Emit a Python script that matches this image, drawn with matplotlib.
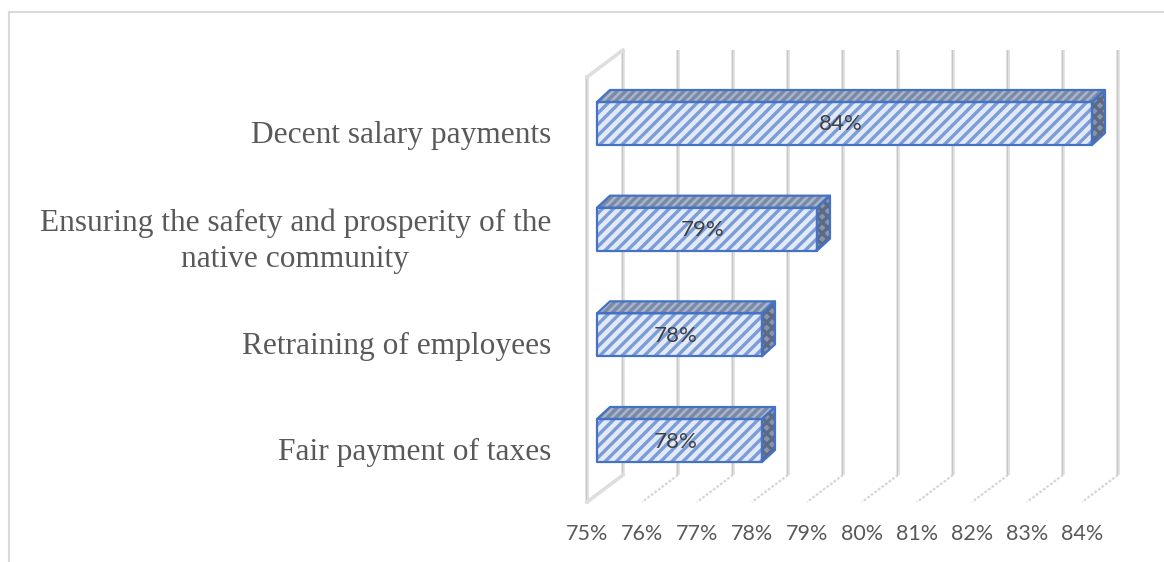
import matplotlib.pyplot as plt
from matplotlib.patches import Polygon
from matplotlib.lines import Line2D

plt.rcParams["hatch.linewidth"] = 2.4

categories = [
    "Decent salary payments",
    "Ensuring the safety and prosperity of the\nnative community",
    "Retraining of employees",
    "Fair payment of taxes",
]
values = [84, 79, 78, 78]
ticks = [75, 76, 77, 78, 79, 80, 81, 82, 83, 84]

W, H = 1164, 562
X0_PX = 597          # where 75% sits on the bar front plane
PX_PER_PCT = 55
Y0_PX = 123.5        # centre of the first bar
PX_PER_CAT = 105.67

EDGE = "#4472c4"
GRID = "#dedede"
TEXT = "#595959"


def dx(px):
    return px / PX_PER_PCT


def dy(px):
    # positive is downwards (y axis is inverted)
    return px / PX_PER_CAT


fig = plt.figure(figsize=(W / 100, H / 100), dpi=100)
ax = fig.add_axes([0, 0, 1, 1])
ax.set_xlim(ticks[0] - dx(X0_PX), ticks[0] + dx(W - X0_PX))
ax.set_ylim(dy(H - Y0_PX), dy(-Y0_PX))
ax.axis("off")

# 3d box: front wall plane and depth vector
base = ticks[0]
wall_shift = dx(-10)
wall_top = dy(-46.5)
wall_bot = dy(378.5)
dep_x, dep_y = dx(36), dy(-27)

# back wall gridlines
for t in ticks:
    xb = t + wall_shift + dep_x
    ax.plot([xb, xb], [wall_top + dep_y, wall_bot + dep_y], color=GRID, lw=2.6,
            solid_capstyle="butt", zorder=1)
    ax.plot([xb - dx(0.6), xb - dx(0.6)], [wall_top + dep_y, wall_bot + dep_y],
            color="#c6c6c6", lw=0.7, zorder=1)
    # floor lines
    ax.plot([xb, t + wall_shift], [wall_bot + dep_y, wall_bot], color="#d6d6d6",
            lw=1.6, ls=(0, (1.2, 0.8)), zorder=1)

# left side wall
xf = base + wall_shift
ax.plot([xf, xf], [wall_top, wall_bot], color=GRID, lw=2.6, zorder=1)
ax.plot([xf - dx(0.6), xf - dx(0.6)], [wall_top, wall_bot], color="#c6c6c6", lw=0.7,
        zorder=1)
ax.plot([xf, xf + dep_x], [wall_top, wall_top + dep_y], color=GRID, lw=2.6, zorder=1)
ax.plot([xf, xf + dep_x], [wall_bot, wall_bot + dep_y], color=GRID, lw=2.6, zorder=1)

# bars
bar_h = dy(43)
bdx, bdy = dx(13), dy(-12)


def face(pts, fc, hc, hatch):
    ax.add_patch(Polygon(pts, closed=True, facecolor=fc, edgecolor=hc,
                         hatch=hatch, lw=0, zorder=3))
    ax.add_patch(Polygon(pts, closed=True, facecolor="none", edgecolor=EDGE,
                         lw=1.6, zorder=4, joinstyle="round"))


for i, v in enumerate(values):
    top = i - bar_h / 2
    bot = i + bar_h / 2
    face([(base, top), (v, top), (v, bot), (base, bot)], "#e2eaf7", "#7b9cd6", "///")
    face([(base, top), (v, top), (v + bdx, top + bdy), (base + bdx, top + bdy)],
         "#a8b4ca", "#7a89a6", "////")
    face([(v, top), (v, bot), (v + bdx, bot + bdy), (v + bdx, top + bdy)],
         "#8995ac", "#5c6a86", "xxx")
    ax.text((base + v) / 2 - dx(4), i + dy(1), f"{v}%", ha="center", va="center",
            fontsize=16, family="Lato", color="#404040", zorder=6)
    ax.text(base + dx(-46), i + dy(12), categories[i], ha="right", va="center",
            multialignment="center", fontsize=22.6, family="Liberation Serif",
            color=TEXT, linespacing=1.3, zorder=6)

# x tick labels along the front edge of the floor
for t in ticks:
    ax.text(t + wall_shift, wall_bot + dy(32), f"{t}%", ha="center", va="center",
            fontsize=15.5, family="Lato", color=TEXT)

# chart border
fig.add_artist(Line2D([9 / W, 9 / W], [0, 1 - 12 / H], color="#d9d9d9", lw=1.5))
fig.add_artist(Line2D([9 / W, 1], [1 - 12 / H, 1 - 12 / H], color="#d9d9d9", lw=1.5))

fig.savefig("out.png", dpi=100)
